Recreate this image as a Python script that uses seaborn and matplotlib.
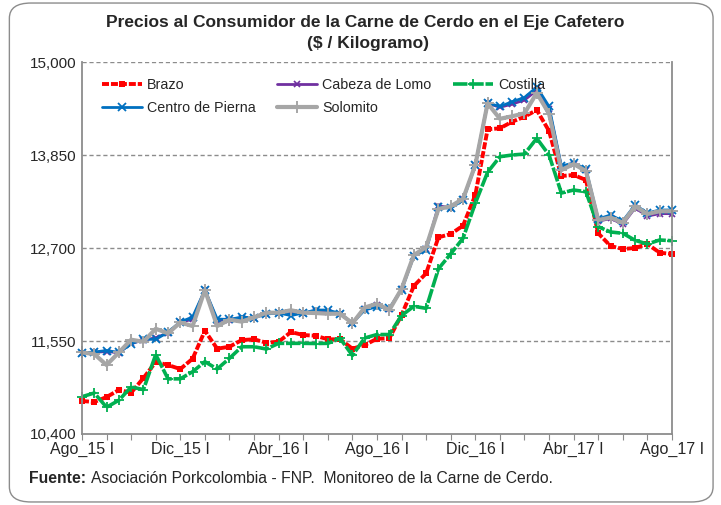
import numpy as np
import pandas as pd
import matplotlib
matplotlib.use("Agg")
import matplotlib.pyplot as plt
import seaborn as sns
from matplotlib.patches import FancyBboxPatch
from matplotlib.ticker import FuncFormatter

# ---------------------------------------------------------------------
# DATOS (precio $/kg, quincenal Ago_15 I .. Ago_17 I)
# ---------------------------------------------------------------------
meses = ['Ago', 'Sep', 'Oct', 'Nov', 'Dic', 'Ene', 'Feb', 'Mar', 'Abr', 'May', 'Jun', 'Jul']
periodos = []
for k in range(25):
    m = meses[k % 12]
    a = 15 + (k + 7) // 12
    periodos.append(f"{m}_{a} I")
    if k < 24:
        periodos.append(f"{m}_{a} II")

brazo = [10808, 10796, 10857, 10944, 10911, 11092, 11290, 11253, 11203, 11331,
         11677, 11455, 11479, 11562, 11571, 11529, 11541, 11661, 11624, 11615,
         11571, 11571, 11455, 11500, 11578, 11583, 11871, 12230, 12387, 12832,
         12873, 12976, 13355, 14168, 14180, 14262, 14324, 14406, 14147, 13590,
         13603, 13541, 12882, 12725, 12688, 12700, 12749, 12642, 12626]

cabeza_lomo = [11400, 11410, 11420, 11405, 11520, 11560, 11590, 11650, 11780, 11820,
               12180, 11800, 11815, 11830, 11840, 11890, 11898, 11900, 11898, 11915,
               11910, 11888, 11770, 11945, 11990, 11945, 12190, 12605, 12690, 13220,
               13200, 13300, 13726, 14490, 14440, 14480, 14530, 14650, 14420, 13700,
               13745, 13660, 13030, 13065, 12995, 13195, 13095, 13125, 13125]

costilla = [10861, 10907, 10731, 10817, 10981, 10949, 11382, 11082, 11082, 11170,
            11294, 11204, 11336, 11479, 11479, 11451, 11521, 11521, 11521, 11519,
            11521, 11583, 11371, 11587, 11630, 11630, 11865, 11979, 11954, 12443,
            12628, 12820, 13253, 13637, 13829, 13850, 13862, 14056, 13850, 13380,
            13417, 13396, 12963, 12898, 12882, 12795, 12749, 12799, 12790]

centro_pierna = [11402, 11414, 11432, 11408, 11513, 11575, 11569, 11661, 11785, 11847,
                 12181, 11822, 11816, 11847, 11834, 11884, 11896, 11865, 11896, 11933,
                 11933, 11890, 11773, 11933, 11974, 11954, 12181, 12601, 12675, 13207,
                 13191, 13293, 13726, 14493, 14450, 14509, 14561, 14691, 14450, 13714,
                 13751, 13677, 13059, 13108, 13034, 13232, 13133, 13170, 13170]

solomito = [11408, 11389, 11253, 11408, 11566, 11541, 11701, 11645, 11779, 11735,
            12181, 11735, 11814, 11789, 11843, 11900, 11900, 11930, 11900, 11896,
            11887, 11887, 11769, 11964, 12011, 11933, 12195, 12613, 12712, 13182,
            13216, 13308, 13726, 14489, 14298, 14329, 14366, 14617, 14361, 13664,
            13739, 13652, 13046, 13077, 13013, 13216, 13120, 13155, 13155]

y_ticks = [10400, 11550, 12700, 13850, 15000]

df = pd.DataFrame({'periodo': periodos, 'idx': np.arange(len(periodos)),
                   'Brazo': brazo, 'Cabeza de Lomo': cabeza_lomo, 'Costilla': costilla,
                   'Centro de Pierna': centro_pierna, 'Solomito': solomito})

# ---------------------------------------------------------------------
# ESTILO
# ---------------------------------------------------------------------
sns.set_theme(style="white")
plt.rcParams['font.family'] = ['Liberation Sans', 'DejaVu Sans']

fig = plt.figure(figsize=(7.21, 5.05), dpi=100)
fig.patch.set_facecolor('white')
fig.patches.append(FancyBboxPatch((0.013, 0.006), 0.976, 0.988, boxstyle="round,pad=0,rounding_size=0.03",
                                  transform=fig.transFigure, facecolor='none', edgecolor='#8c8c8c',
                                  linewidth=1.0, zorder=-5))

ax = fig.add_axes([0.1137, 0.1406, 0.8183, 0.7366])
ax.set_facecolor('none')

estilos = {
    'Brazo': dict(color='#FF0000', lw=2.8, ls=(0, (1.8, 0.5)), marker='s', ms=4.5, mew=0),
    'Cabeza de Lomo': dict(color='#7030A0', lw=2.0, ls='-', marker='x', ms=5, mew=1.2),
    'Costilla': dict(color='#00B050', lw=2.6, ls=(0, (4.0, 0.5)), marker='+', ms=7, mew=1.3),
    'Centro de Pierna': dict(color='#0070C0', lw=2.0, ls='-', marker='x', ms=5.5, mew=1.3),
    'Solomito': dict(color='#A6A6A6', lw=3.0, ls='-', marker='+', ms=8, mew=1.4),
}

lineas = {}
for serie in ['Brazo', 'Cabeza de Lomo', 'Costilla', 'Centro de Pierna', 'Solomito']:
    e = estilos[serie]
    sns.lineplot(data=df, x='idx', y=serie, ax=ax, color=e['color'], linewidth=e['lw'],
                 linestyle=e['ls'], marker=e['marker'], markersize=e['ms'],
                 markeredgewidth=e['mew'], markeredgecolor=e['color'], clip_on=False,
                 label=serie)
    lineas[serie] = ax.get_lines()[-1]

# Ejes
ax.set_xlim(0, len(periodos) - 1)
ax.set_ylim(10400, 15000)
ax.set_yticks(y_ticks)
ax.yaxis.set_major_formatter(FuncFormatter(lambda v, p: f"{int(v):,}"))
ax.set_xticks(df['idx'][::2])
ax.set_xticklabels([p if i % 8 == 0 else '' for i, p in enumerate(periodos)][::2])
ax.tick_params(axis='x', length=4, width=0.8, color='#8c8c8c', direction='out', pad=2,
               labelsize=11.5, bottom=True)
ax.tick_params(axis='y', length=0, labelsize=11, pad=4)
ax.set_xlabel('')
ax.set_ylabel('')

for v in y_ticks[1:]:
    ax.axhline(v, color='#8c8c8c', lw=1.0, ls=(0, (3, 2)), zorder=0)
for lado in ['left', 'right', 'bottom']:
    ax.spines[lado].set_color('#8c8c8c')
    ax.spines[lado].set_linewidth(1.3)
ax.spines['top'].set_visible(False)

# Leyenda (orden por filas como en Excel)
orden = ['Brazo', 'Centro de Pierna', 'Cabeza de Lomo', 'Solomito', 'Costilla']
ax.legend([lineas[s] for s in orden], orden, ncol=3, loc='upper left',
          bbox_to_anchor=(0.012, 0.991), frameon=False, fontsize=10.3, handlelength=2.8,
          handletextpad=0.35, columnspacing=1.5, labelspacing=0.6, borderpad=0.4)

# Titulos y fuente
fig.text(0.506, 0.955, "Precios al Consumidor de la Carne de Cerdo en el Eje Cafetero",
         ha='center', va='center', fontsize=12.5, fontweight='bold')
fig.text(0.510, 0.913, "($ / Kilogramo)", ha='center', va='center', fontsize=12.5, fontweight='bold')
fig.text(0.040, 0.053, "Fuente:", ha='left', va='center', fontsize=11.3, fontweight='bold')
fig.text(0.126, 0.053, "Asociación Porkcolombia - FNP.  Monitoreo de la Carne de Cerdo.",
         ha='left', va='center', fontsize=11.3)

fig.savefig("out.png", dpi=100)
